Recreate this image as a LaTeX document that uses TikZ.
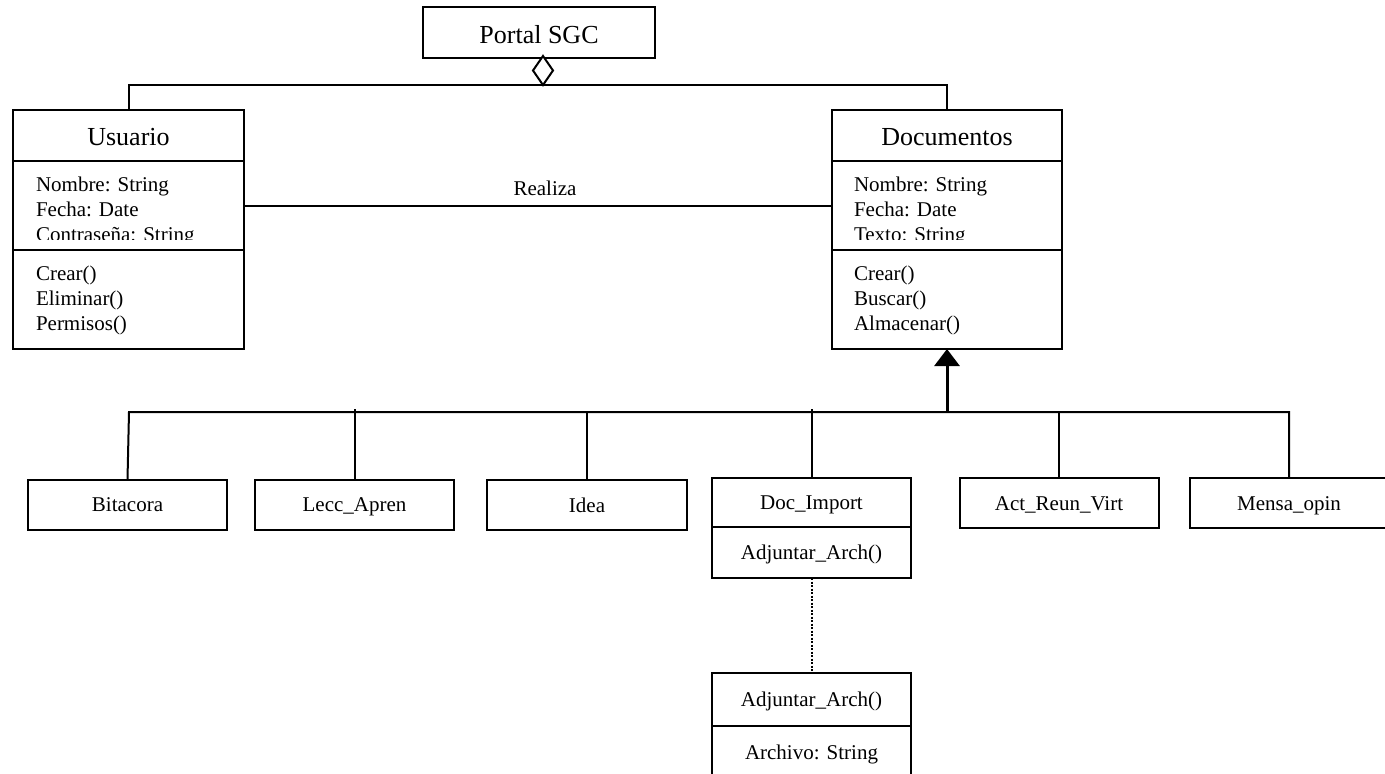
\documentclass[tikz,border=0pt]{standalone}
\usepackage{fontspec}
\setmainfont{Liberation Serif}
\usetikzlibrary{arrows.meta,shapes.geometric}
\begin{document}
\begin{tikzpicture}[x=1pt,y=-1pt,line width=2pt,
  box/.style={draw,rectangle,inner sep=0pt,outer sep=0pt},
  big/.style={font=\fontsize{26}{30}\selectfont,text height=20pt,text depth=0pt},
  small/.style={font=\fontsize{21}{25}\selectfont,text height=14.5pt,text depth=0pt},
  line/.style={anchor=base west,inner sep=0pt,font=\fontsize{21}{25}\selectfont},
  leaf/.style={box,small,minimum width=199pt,minimum height=50pt},
  ]
\useasboundingbox (0,0) rectangle (1385,774);

% ---- aggregate root ----
\node[box,big,text height=21pt,minimum width=232pt,minimum height=51pt] (portal) at (539,32.5) {Portal SGC};
\node[diamond,draw,fill=white,inner sep=0pt,outer sep=0pt,minimum width=20pt,minimum height=29pt] (agg) at (543,70.5) {};

% ---- class Usuario ----
\node[box,big,minimum width=231pt,minimum height=51pt] (usuT) at (128.5,135.5) {Usuario};
\node[box,minimum width=231pt,minimum height=89pt,anchor=north] (usuA) at (usuT.south) {};
\node[box,minimum width=231pt,minimum height=99pt,anchor=north] (usuM) at (usuA.south) {};
\begin{scope}
  \clip (usuA.north west) rectangle ([yshift=11pt]usuA.south east);
  \foreach \t [count=\i] in {Nombre: String,Fecha: Date,Contraseña: String}
    \node[line] (ua\i) at (35,166+25*\i) {\t};
\end{scope}
\foreach \t [count=\i] in {Crear(),Eliminar(),Permisos()}
  \node[line] (um\i) at (35,255+25*\i) {\t};

% ---- class Documentos ----
\node[box,big,minimum width=230pt,minimum height=51pt] (docT) at (947,135.5) {Documentos};
\node[box,minimum width=230pt,minimum height=89pt,anchor=north] (docA) at (docT.south) {};
\node[box,minimum width=230pt,minimum height=99pt,anchor=north] (docM) at (docA.south) {};
\begin{scope}
  \clip (docA.north west) rectangle ([yshift=11pt]docA.south east);
  \foreach \t [count=\i] in {Nombre: String,Fecha: Date,Texto: String}
    \node[line] (da\i) at (853,166+25*\i) {\t};
\end{scope}
\foreach \t [count=\i] in {Crear(),Buscar(),Almacenar()}
  \node[line] (dm\i) at (853,255+25*\i) {\t};

% ---- aggregation ----
\draw (usuT.north) |- (agg.south) -| (docT.north);

% ---- association ----
\draw (usuA.east) -- node[pos=0.512,anchor=base,yshift=10pt,inner sep=0pt,font=\fontsize{21}{25}\selectfont] (rel) {Realiza} (docA.west);

% ---- subclasses ----
\node[leaf] (bitac) at (127.5,504.5) {Bitacora};
\node[leaf] (lecc) at (354.5,504.5) {Lecc\_Apren};
\node[leaf,minimum width=200pt] (idea) at (587,505) {Idea};
\node[leaf,minimum height=49pt] (dimp) at (811.5,502.5) {Doc\_Import};
\node[box,small,minimum width=199pt,minimum height=51pt,anchor=north] (dimpM) at (dimp.south) {Adjuntar\_Arch()};
\node[leaf] (act) at (1059,503) {Act\_Reun\_Virt};
\node[leaf] (mensa) at (1289,503) {Mensa\_opin};

% ---- generalization ----
\coordinate (busL) at (129,412);
\coordinate (gen) at (docM.south |- busL);
\draw (bitac.north) -- (busL) -| (mensa.north);
\foreach \n in {lecc,dimp}
  \draw (\n.north) -- ([yshift=3pt]\n.north |- busL);
\foreach \n in {idea,act}
  \draw (\n.north) -- (\n.north |- busL);
\draw[line width=3pt,-{Triangle[length=17pt,width=25pt]}] (gen) -- (docM.south);

% ---- attached file class ----
\node[box,small,minimum width=199pt,minimum height=53pt] (archT) at (811.5,699.5) {Adjuntar\_Arch()};
\node[box,small,minimum width=199pt,minimum height=53pt,anchor=north] (archA) at (archT.south) {Archivo: String};
\draw[line width=2pt,dash pattern=on 2pt off 1.5pt] (dimpM.south) -- (archT.north);
\end{tikzpicture}
\end{document}
